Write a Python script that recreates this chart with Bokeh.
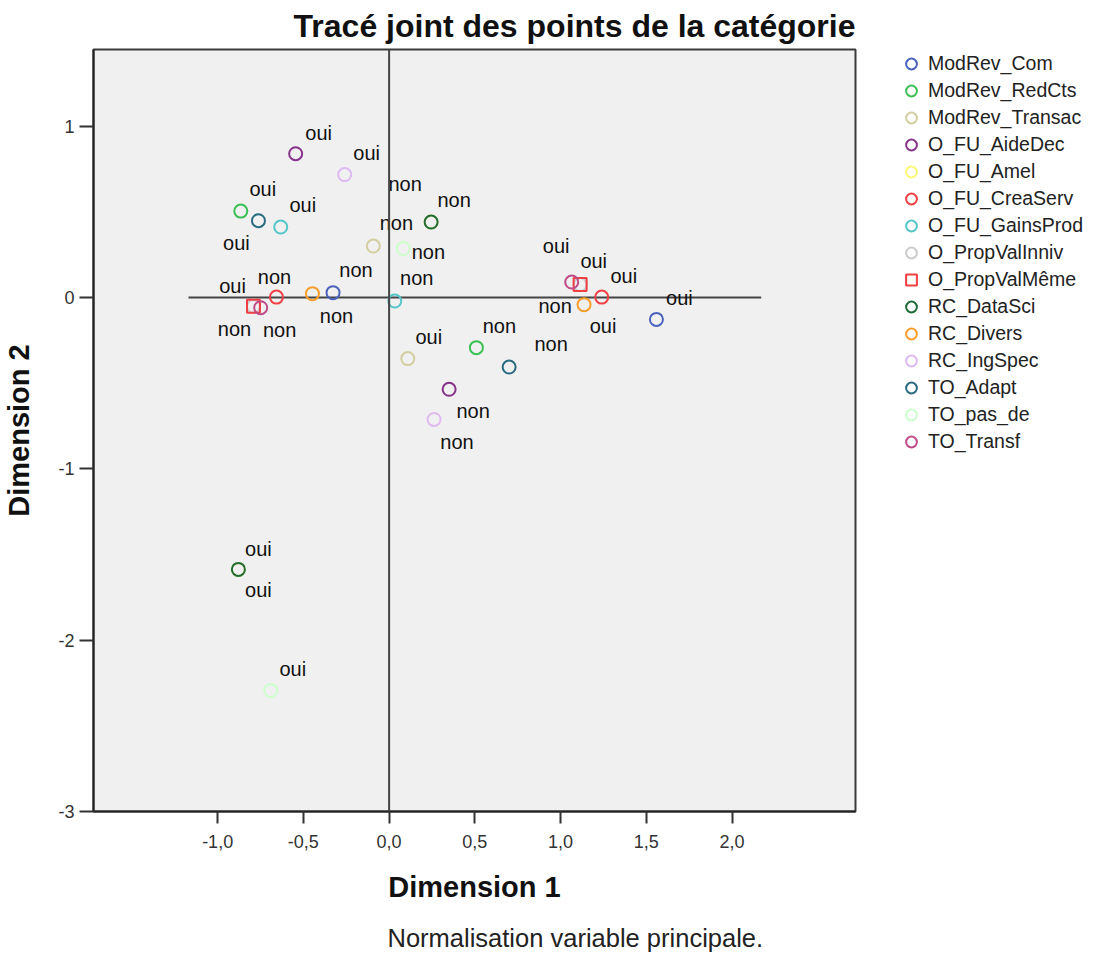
from bokeh.plotting import figure
from bokeh.models import (ColumnDataSource, Legend, LegendItem, Span, FixedTicker,
                          Title, Range1d)
from bokeh.embed import file_html
from bokeh.resources import INLINE
from bokeh.core.properties import value, field

# ---------------- data ----------------
variables = ["ModRev_Com", "ModRev_RedCts", "ModRev_Transac", "O_FU_AideDec",
             "O_FU_Amel", "O_FU_CreaServ", "O_FU_GainsProd", "O_PropValInniv",
             "O_PropValMême", "RC_DataSci", "RC_Divers", "RC_IngSpec",
             "TO_Adapt", "TO_pas_de", "TO_Transf"]

oui_x = [1.559, -0.865, 0.109, -0.545, -0.879, 1.240, -0.632, -0.791,
         1.114, -0.879, 1.137, -0.259, -0.762, -0.690, 1.065]
oui_y = [-0.128, 0.504, -0.357, 0.839, -1.587, 0.002, 0.411, -0.052,
         0.075, -1.587, -0.042, 0.717, 0.448, -2.294, 0.090]
non_x = [-0.327, 0.509, -0.092, 0.350, 0.245, -0.657, 0.033, 1.114,
         -0.791, 0.245, -0.447, 0.262, 0.700, 0.083, -0.749]
non_y = [0.028, -0.293, 0.300, -0.536, 0.440, 0.002, -0.021, 0.075,
         -0.052, 0.440, 0.022, -0.712, -0.406, 0.285, -0.060]

categories = ["oui", "non"]

x_ticks = [-1.0, -0.5, 0.0, 0.5, 1.0, 1.5, 2.0]
y_ticks = [-3, -2, -1, 0, 1]
ref_line_x = [-1.17, 2.17]

title_text = "Tracé joint des points de la catégorie"
footnote_text = "Normalisation variable principale."

# ---------------- styles ----------------
colors = ["#4a62bb", "#3cbf55", "#d3ce9f", "#86338a", "#fbf873", "#ef4045",
          "#55c6c8", "#cccccc", "#ef3f44", "#1f6a38", "#f89e2c", "#ddbaf1",
          "#2a6b80", "#ccffcc", "#bf4c87"]
markers = ["circle"] * 8 + ["square"] + ["circle"] * 6

# label offsets in screen pixels (dx right, dy down)
oui_off = [(23, -21), (22, -22), (21, -22), (23, -21), (20, 21), (22, -21),
           (22, -22), (-21, -20), (-24, -39), (20, -20), (19, 21), (22, -22),
           (-22, 22), (22, -22), (22, -21)]
non_off = [(23, -23), (23, -22), (23, -23), (24, 22), (-26, -38), (-2, -20),
           (22, -23), (-25, 21), (-19, 23), (23, -22), (24, 22), (23, 23),
           (42, -23), (25, 3), (19, 22)]

FONT = "Liberation Sans"
FW, FH = 762, 762
X0, X1 = -1.724, 2.72
Y0, Y1 = -3.0, 1.447
px_x = (X1 - X0) / FW
px_y = (Y1 - Y0) / FH

p = figure(frame_width=FW, frame_height=FH,
           x_range=Range1d(X0, X1), y_range=Range1d(Y0, Y1),
           output_backend="svg", toolbar_location=None,
           min_border_left=88, min_border_right=238,
           min_border_top=41, min_border_bottom=144)

p.background_fill_color = "#f0f0f0"
p.border_fill_color = "white"
p.outline_line_color = "#3a3a3a"
p.outline_line_width = 2
p.xgrid.visible = False
p.ygrid.visible = False

# title
p.title.text = title_text
p.title.align = "right"
p.title.text_font = FONT
p.title.text_font_size = "32px"
p.title.text_font_style = "bold"
p.title.text_color = "#111111"
p.title.standoff = 11

# axes
p.xaxis.ticker = FixedTicker(ticks=x_ticks)
p.xaxis.major_label_overrides = {t: f"{t:.1f}".replace(".", ",") for t in x_ticks}
p.yaxis.ticker = FixedTicker(ticks=y_ticks)
p.yaxis.major_label_overrides = {t: str(t) for t in y_ticks}
p.xaxis.axis_label = "Dimension 1"
p.yaxis.axis_label = "Dimension 2"
for ax in (p.xaxis[0], p.yaxis[0]):
    ax.axis_label_text_font = FONT
    ax.axis_label_text_font_style = "bold"
    ax.axis_label_text_font_size = "29px"
    ax.axis_label_text_color = "#111111"
    ax.major_label_text_font = FONT
    ax.major_label_text_font_size = "18px"
    ax.major_label_text_color = "#333333"
    ax.minor_tick_line_color = None
    ax.major_tick_in = 0
    ax.major_tick_line_width = 2
    ax.major_tick_line_color = "#333333"
    ax.axis_line_width = 2
    ax.axis_line_color = "#222222"
p.xaxis.major_tick_out = 12
p.xaxis.major_label_standoff = 11
p.xaxis.axis_label_standoff = 20
p.yaxis.major_tick_out = 14
p.yaxis.major_label_standoff = 5
p.yaxis.axis_label_standoff = 20

# reference lines
p.add_layout(Span(location=0, dimension="height", line_color="#444444", line_width=2))
p.line(ref_line_x, [0, 0], line_color="#444444", line_width=2)

# points
items = []
lab_x, lab_y, lab_t = [], [], []
for i, name in enumerate(variables):
    src = ColumnDataSource(dict(x=[oui_x[i], non_x[i]], y=[oui_y[i], non_y[i]]))
    r = p.scatter("x", "y", source=src, marker=markers[i], size=13,
                  line_color=colors[i], line_width=2, fill_alpha=0)
    items.append(LegendItem(label=name, renderers=[r]))
    for cat, xs, ys, offs in (("oui", oui_x, oui_y, oui_off), ("non", non_x, non_y, non_off)):
        dx, dy = offs[i]
        lab_x.append(xs[i] + dx * px_x)
        lab_y.append(ys[i] - dy * px_y)
        lab_t.append(cat)

lsrc = ColumnDataSource(dict(x=lab_x, y=lab_y, t=lab_t))
p.text(x="x", y="y", text=field("t"), source=lsrc,
       text_align="center", text_baseline="middle",
       text_font=value(FONT), text_font_size="20px", text_color="#111111")

legend = Legend(items=items, location=(42, 356), orientation="vertical",
                border_line_color=None, background_fill_alpha=0,
                padding=0, margin=0, spacing=0,
                glyph_width=28, glyph_height=27, label_standoff=3,
                label_text_font=FONT, label_text_font_size="19.5px",
                label_text_color="#222222", label_height=20)
p.add_layout(legend, "right")

foot = Title(text=footnote_text, align="left", offset=294,
             text_font=FONT, text_font_size="25.5px", text_font_style="normal",
             text_color="#222222", standoff=33)
p.add_layout(foot, "below")

open("out.html", "w").write(file_html(p, INLINE))
